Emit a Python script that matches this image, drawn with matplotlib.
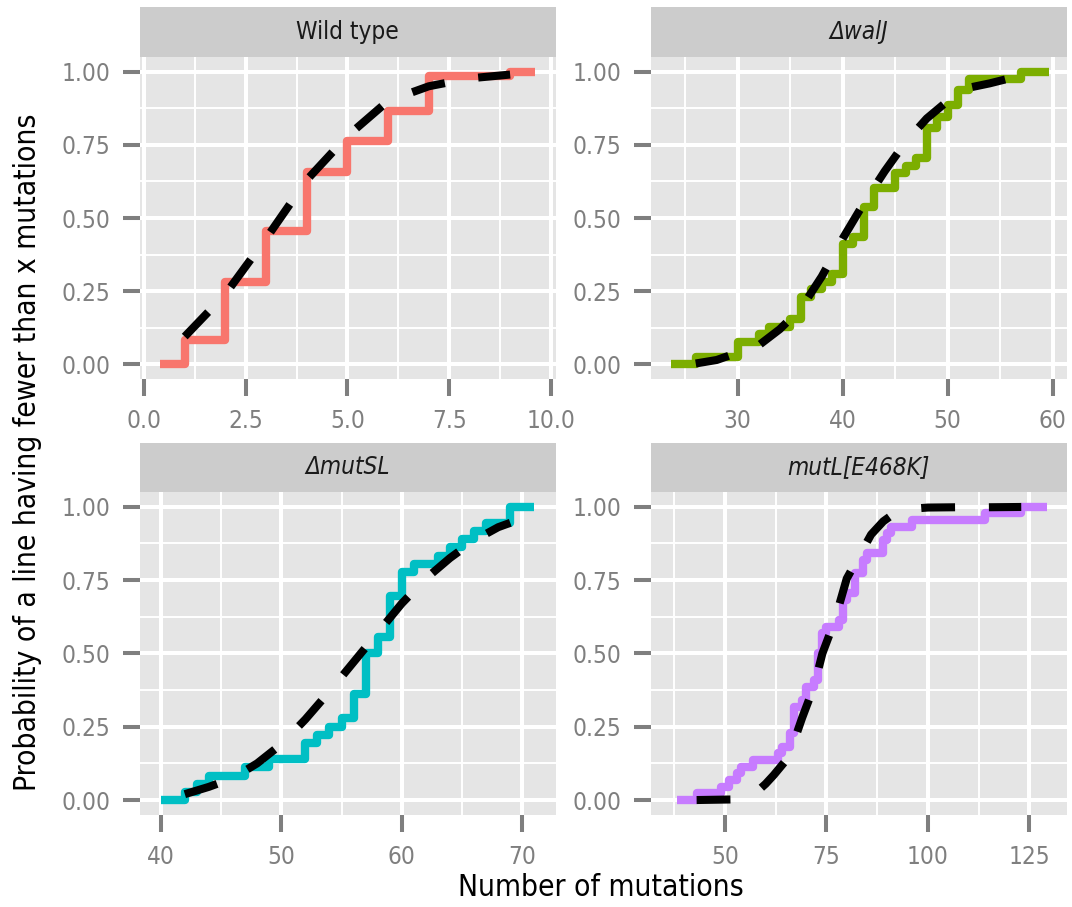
import matplotlib
matplotlib.use("Agg")
import matplotlib.pyplot as plt
from matplotlib.ticker import FixedLocator

plt.rcParams['font.family'] = ['DejaVu Sans']
plt.rcParams['font.stretch'] = 'condensed'

# ---------------- data ----------------
panel_titles = ["Wild type", "\u0394walJ", "\u0394mutSL", "mutL[E468K]"]
panel_italic = [False, True, True, True]
colors = ["#F8766D", "#7CAE00", "#00BFC4", "#C77CFF"]

# Empirical step functions (x = jump positions, y = level after jump)
wt_x = [0.38, 1, 2, 3, 4, 5, 6, 7, 9, 9.62]
wt_y = [0.0, 0.082, 0.281, 0.457, 0.656, 0.762, 0.867, 0.986, 1.0, 1.0]

walj_x = [23.6, 26, 30, 32, 33, 35, 36, 37, 38, 39, 40, 41, 42, 43, 45, 46, 47,
          48, 49, 50, 51, 52, 57, 59.6]
walj_y = [0.0, 0.026, 0.077, 0.103, 0.128, 0.154, 0.231, 0.256, 0.282, 0.308,
          0.41, 0.436, 0.538, 0.603, 0.654, 0.679, 0.705, 0.808, 0.846, 0.885,
          0.936, 0.974, 1.0, 1.0]

mutsl_x = [40.0, 42, 43, 44, 47, 49, 52, 53, 54, 55, 56, 57, 58, 59, 60, 61, 63,
           64, 65, 66, 67, 69, 71.0]
mutsl_y = [0.0, 0.028, 0.056, 0.083, 0.111, 0.139, 0.194, 0.222, 0.25, 0.278,
           0.361, 0.5, 0.556, 0.694, 0.778, 0.806, 0.833, 0.861, 0.889, 0.917,
           0.944, 1.0, 1.0]

mutl_x = [38.1, 43, 49, 51, 53, 54, 57, 63, 64, 66, 67, 69, 70, 72, 73, 74, 75,
          78, 79, 80, 82, 84, 85, 89, 90, 91, 96, 114, 123, 129.3]
mutl_y = [0.0, 0.023, 0.045, 0.068, 0.091, 0.114, 0.136, 0.159, 0.182, 0.227,
          0.318, 0.341, 0.386, 0.409, 0.5, 0.568, 0.591, 0.614, 0.682, 0.705,
          0.773, 0.818, 0.841, 0.886, 0.909, 0.932, 0.955, 0.977, 1.0, 1.0]

# Fitted (dashed) curves
wt_fx = [1, 2, 3, 4, 5, 6, 7, 8, 9]
wt_fy = [0.095, 0.24, 0.43, 0.63, 0.78, 0.9, 0.95, 0.977, 0.99]

walj_fx = [26, 28, 30, 32, 34, 36, 38, 40, 42, 44, 46, 48, 50, 52, 54, 56, 57]
walj_fy = [0.003, 0.015, 0.04, 0.065, 0.12, 0.19, 0.30, 0.43, 0.55, 0.66, 0.76,
           0.84, 0.90, 0.945, 0.96, 0.978, 0.99]

mutsl_fx = [42, 44, 46, 48, 50, 52, 54, 56, 58, 60, 62, 64, 66, 68, 69]
mutsl_fy = [0.02, 0.045, 0.075, 0.125, 0.19, 0.275, 0.37, 0.47, 0.57, 0.67,
            0.755, 0.825, 0.885, 0.93, 0.945]

mutl_fx = [43, 52, 55, 58, 60, 62, 65, 67, 69, 72, 74, 77, 80, 83, 86, 89, 92,
           96, 100, 107, 115, 123]
mutl_fy = [0.0, 0.002, 0.01, 0.03, 0.055, 0.085, 0.135, 0.2, 0.28, 0.39, 0.5,
           0.61, 0.755, 0.83, 0.905, 0.95, 0.98, 0.993, 0.997, 0.998, 0.998, 0.999]

x_major = [[0.0, 2.5, 5.0, 7.5, 10.0], [30, 40, 50, 60], [40, 50, 60, 70], [50, 75, 100, 125]]
x_labels = [["0.0", "2.5", "5.0", "7.5", "10.0"], ["30", "40", "50", "60"],
            ["40", "50", "60", "70"], ["50", "75", "100", "125"]]
x_minor = [[1.25, 3.75, 6.25, 8.75], [25, 35, 45, 55], [45, 55, 65], [37.5, 62.5, 87.5, 112.5]]
x_limits = [(-0.1, 10.12), (21.74, 61.33), (38.28, 72.77), (31.76, 134.2)]
y_major = [0.0, 0.25, 0.5, 0.75, 1.0]
y_labels = ["0.00", "0.25", "0.50", "0.75", "1.00"]
y_minor = [0.125, 0.375, 0.625, 0.875]

steps = [(wt_x, wt_y), (walj_x, walj_y), (mutsl_x, mutsl_y), (mutl_x, mutl_y)]
fits = [(wt_fx, wt_fy), (walj_fx, walj_fy), (mutsl_fx, mutsl_fy), (mutl_fx, mutl_fy)]

# ---------------- figure ----------------
W, H = 1072, 907
fig = plt.figure(figsize=(W / 100, H / 100), dpi=100)

cols = [(140, 555.7), (651, 1066.7)]
rows = [(57, 379, 7), (492, 814.7, 443)]  # (top, bottom, strip top)

tick_grey = "#7F7F7F"
for i in range(4):
    r, c = divmod(i, 2)
    x0, x1 = cols[c]
    top, bot, stop = rows[r]
    ax = fig.add_axes([x0 / W, 1 - bot / H, (x1 - x0) / W, (bot - top) / H])
    ax.set_facecolor("#E5E5E5")
    for s in ax.spines.values():
        s.set_visible(False)
    ax.set_xlim(*x_limits[i])
    ax.set_ylim(-0.05, 1.05)
    ax.xaxis.set_major_locator(FixedLocator(x_major[i]))
    ax.set_xticklabels(x_labels[i])
    ax.xaxis.set_minor_locator(FixedLocator(x_minor[i]))
    ax.yaxis.set_major_locator(FixedLocator(y_major))
    ax.set_yticklabels(y_labels)
    ax.yaxis.set_minor_locator(FixedLocator(y_minor))
    ax.grid(which="major", color="white", lw=2.9)
    ax.grid(which="minor", color="white", lw=1.4)
    ax.set_axisbelow(True)
    ax.tick_params(which="major", length=12.5, width=2.9, color=tick_grey,
                   labelcolor=tick_grey, labelsize=17.5, pad=9)
    ax.tick_params(which="minor", length=0)

    sx, sy = steps[i]
    ax.step(sx, sy, where="post", color=colors[i], lw=6.0,
            solid_joinstyle="round", solid_capstyle="butt", zorder=3)
    fx, fy = fits[i]
    ax.plot(fx, fy, color="black", lw=5.8, dashes=(4.2, 4.2),
            dash_capstyle="butt", dash_joinstyle="round", zorder=4)

    # strip
    sax = fig.add_axes([x0 / W, 1 - top / H, (x1 - x0) / W, (top - stop) / H])
    sax.set_facecolor("#CCCCCC")
    sax.set_xticks([])
    sax.set_yticks([])
    for s in sax.spines.values():
        s.set_visible(False)
    sax.text(0.5, 0.5, panel_titles[i], ha="center", va="center",
             fontsize=17.5, color="#1A1A1A",
             style="italic" if panel_italic[i] else "normal",
             transform=sax.transAxes)

fig.text(601 / W, 1 - 888 / H, "Number of mutations", ha="center", va="center",
         fontsize=21.5, color="black")
fig.text(28 / W, 1 - 452 / H, "Probability of a line having fewer than x mutations",
         ha="center", va="center", rotation=90, fontsize=21.5, color="black")

fig.savefig("out.png", dpi=100, facecolor="white")
